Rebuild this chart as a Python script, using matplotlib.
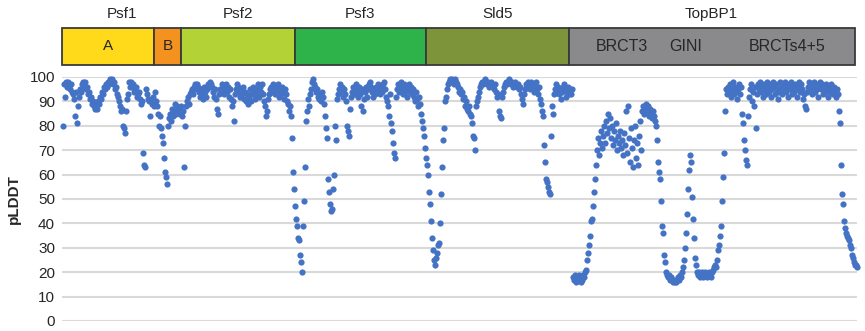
#!/usr/bin/env python3
"""
plot.py — pLDDT por residuo (AlphaFold) para el complejo GINS + TopBP1.

Dibuja un scatter de pLDDT a lo largo de las cadenas concatenadas y, encima,
una barra con los dominios de cada proteína. Sale en out.png (865x331 px).
"""

import matplotlib
matplotlib.use("Agg")
import matplotlib.pyplot as plt
import numpy as np

# ── Datos (un valor por residuo mostrado) ─────────────────────────────────────

psf1_A = [
    80, 97, 92, 98, 96, 98, 97, 95, 97, 94,
    93, 91, 84, 94, 81, 88, 92, 95, 94, 97,
    98, 96, 98, 95, 96, 93, 94, 91, 92, 89,
    90, 88, 87, 89, 87, 90, 89, 92, 91, 94,
    93, 96, 95, 97, 96, 98, 97, 99, 98, 99,
    97, 98, 95, 96, 93, 92, 90, 88, 86, 87,
    80, 79, 77, 86, 91, 93, 98, 96, 98, 96,
    97, 94, 95, 96, 92, 93, 94, 91, 89, 90,
    69, 64, 63, 95, 93, 91, 90, 84, 91, 89,
    92, 88,
]
psf1_B = [
    94, 90, 88, 85, 80, 84, 79, 76, 73, 67,
    61, 59, 56, 80, 83, 85, 82, 87, 84, 86,
    89, 85, 88, 86, 87, 85, 88,
]
psf2 = [
    84, 86, 63, 80, 88, 90, 92, 89, 93, 94,
    95, 93, 96, 97, 95, 97, 96, 94, 92, 95,
    93, 91, 96, 94, 92, 95, 97, 96, 98, 97,
    96, 94, 92, 95, 91, 87, 85, 93, 95, 94,
    97, 96, 93, 95, 97, 94, 96, 92, 95, 91,
    88, 90, 82, 93, 95, 97, 96, 94, 92, 95,
    93, 96, 91, 94, 90, 93, 89, 92, 95, 90,
    93, 96, 94, 91, 93, 95, 97, 92, 96, 94,
    97, 93, 90, 88, 84, 86, 91, 93, 95, 96,
    94, 97, 95, 93, 96, 94, 97, 92, 95, 93,
    96, 94, 91, 95, 93, 90, 89, 86, 88, 84,
    75, 61, 54, 47,
]
psf3 = [
    42, 39, 34, 33, 27, 24, 20, 39, 49, 63,
    82, 86, 91, 88, 93, 95, 98, 99, 97, 96,
    94, 95, 92, 91, 93, 90, 94, 92, 89, 84,
    79, 75, 58, 53, 48, 45, 46, 54, 60, 80,
    74, 91, 93, 95, 97, 94, 96, 92, 95, 93,
    90, 80, 78, 76, 87, 92, 94, 96, 93, 95,
    97, 94, 92, 96, 93, 88, 95, 86, 91, 94,
    96, 92, 95, 97, 98, 96, 94, 92, 95, 93,
    96, 94, 97, 95, 93, 96, 94, 97, 98, 95,
    92, 90, 88, 84, 93, 81, 78, 73, 69, 67,
    92, 95, 97, 94, 96, 98, 95, 93, 97, 94,
    96, 92, 95, 97, 94, 96, 93, 95, 92, 90,
    94, 91, 88, 92, 89, 85, 82, 79, 76, 71,
    67, 64,
]
sld5 = [
    60, 53, 48, 41, 34, 29, 25, 23, 26, 28,
    31, 32, 40, 52, 63, 74, 79, 90, 92, 95,
    97, 98, 99, 98, 99, 98, 97, 99, 98, 97,
    96, 94, 95, 93, 94, 91, 92, 88, 90, 87,
    86, 88, 85, 84, 81, 76, 75, 70, 88, 90,
    92, 94, 96, 97, 98, 97, 98, 99, 98, 97,
    98, 96, 97, 98, 97, 96, 95, 97, 94, 92,
    93, 86, 84, 83, 92, 94, 96, 97, 98, 97,
    98, 99, 98, 97, 98, 96, 97, 98, 97, 96,
    97, 95, 96, 93, 91, 89, 93, 95, 97, 96,
    98, 97, 95, 98, 96, 97, 94, 96, 98, 95,
    93, 96, 91, 89, 86, 84, 72, 65, 58, 57,
    55, 53, 52, 76, 88, 85, 93, 95, 97, 94,
    96, 93, 95, 91, 94, 96, 97, 95, 92, 94,
    96, 93, 95,
]
topbp1 = [
    93, 95, 18, 17, 19, 16, 18, 17, 19, 18,
    16, 17, 19, 18, 20, 21, 25, 28, 31, 35,
    41, 42, 47, 53, 58, 64, 70, 75, 68, 73,
    78, 71, 76, 80, 73, 82, 77, 85, 79, 83,
    75, 80, 72, 78, 74, 81, 70, 76, 73, 78,
    71, 74, 68, 77, 72, 86, 69, 88, 75, 65,
    79, 71, 63, 74, 80, 67, 73, 64, 76, 82,
    70, 86, 88, 85, 87, 89, 86, 88, 84, 87,
    85, 83, 86, 84, 82, 80, 74, 65, 61, 58,
    49, 39, 36, 27, 24, 20, 19, 18, 19, 17,
    18, 17, 16, 17, 16, 16, 17, 18, 17, 19,
    18, 20, 22, 25, 30, 36, 44, 54, 62, 68,
    65, 51, 42, 34, 26, 23, 20, 19, 20, 18,
    19, 20, 18, 19, 20, 19, 18, 19, 20, 19,
    18, 20, 21, 22, 23, 22, 25, 29, 31, 35,
    39, 49, 59, 69, 86, 95, 93, 96, 94, 97,
    92, 95, 98, 93, 96, 94, 91, 95, 97, 93,
    96, 85, 81, 74, 70, 66, 64, 84, 92, 95,
    97, 90, 94, 88, 96, 79, 93, 97, 95, 98,
    94, 96, 92, 97, 95, 93, 98, 96, 94, 97,
    92, 95, 98, 96, 93, 97, 95, 91, 94, 98,
    96, 93, 97, 95, 98, 94, 96, 92, 97, 95,
    98, 93, 96, 94, 97, 95, 92, 96, 98, 94,
    97, 95, 91, 93, 88, 87, 94, 96, 98, 95,
    97, 93, 96, 98, 94, 97, 95, 92, 96, 98,
    95, 97, 93, 96, 94, 97, 95, 92, 96, 94,
    97, 95, 93, 96, 94, 92, 95, 93, 86, 81,
    64, 52, 48, 41, 38, 36, 35, 34, 33, 31,
    30, 27, 26, 24, 23, 23, 22,
]

# Segmentos de la barra de dominios (etiqueta interior, color)
segments = [psf1_A, psf1_B, psf2, psf3, sld5, topbp1]
segment_labels = ["A", "B", "", "", "", ""]
segment_colors = ["#FFDA1A", "#F4921F", "#B2D235", "#2DB34A", "#7E943A", "#8A8A8C"]

# Nombre de proteína encima de la barra: (nombre, índices de segmentos)
proteins = [("Psf1", [0, 1]), ("Psf2", [2]), ("Psf3", [3]), ("Sld5", [4]), ("TopBP1", [5])]

# Subdominios de TopBP1 escritos dentro de la barra gris
topbp1_domains = ["BRCT3", "GINI", "BRCTs4+5"]

yticks = list(range(0, 101, 10))

# ── Figura ────────────────────────────────────────────────────────────────────

plt.rcParams["font.family"] = ["Liberation Sans", "DejaVu Sans"]
TEXT = "#262626"

values = np.concatenate([np.asarray(s, dtype=float) for s in segments])
x = np.arange(len(values))
lengths = [len(s) for s in segments]
starts = np.concatenate([[0], np.cumsum(lengths)[:-1]]) - 0.5

fig = plt.figure(figsize=(8.65, 3.31), dpi=100)
W, H = 865, 331
x0, x1 = -1, len(values) - 0.5

ax = fig.add_axes([62 / W, 1 - 321 / H, 795 / W, 244 / H])
ax.scatter(x, values, s=20, color="#4472C4", linewidths=0, zorder=3, clip_on=False)
ax.set_xlim(x0, x1)
ax.set_ylim(0, 100)
ax.set_yticks(yticks)
ax.set_xticks([])
ax.yaxis.grid(True, color="#D9D9D9", linewidth=1.5, zorder=0)
ax.set_axisbelow(True)
for sp in ax.spines.values():
    sp.set_visible(False)
ax.tick_params(axis="y", length=0, pad=5, labelsize=11, labelcolor=TEXT)
ax.set_ylabel("pLDDT", fontsize=11, fontweight="bold", color=TEXT, labelpad=6)

# Barra de dominios (termina un poco antes del último punto, como el original)
axb = fig.add_axes([62 / W, 1 - 65 / H, 795 / W, 37 / H])
axb.set_xlim(x0, x1 + 2.5)
axb.set_ylim(0, 1)
axb.axis("off")
for st, ln, lab, col in zip(starts, lengths, segment_labels, segment_colors):
    axb.barh(0.5, ln, left=st, height=1, color=col, edgecolor="#3A3A3A",
             linewidth=1.3, clip_on=False)
    if lab:
        axb.text(st + ln / 2, 0.5, lab, ha="center", va="center",
                 fontsize=11, color=TEXT)

for name, idx in proteins:
    left = starts[idx[0]]
    right = starts[idx[-1]] + lengths[idx[-1]]
    axb.text((left + right) / 2, 1.38, name, ha="center", va="center",
             fontsize=11, color=TEXT, clip_on=False)

# posiciones de los subdominios dentro de TopBP1 (fracción del segmento)
t_start, t_len = starts[5], lengths[5]
for lab, frac in zip(topbp1_domains, [0.185, 0.41, 0.765]):
    axb.text(t_start + frac * t_len, 0.5, lab, ha="center", va="center",
             fontsize=11.5, color=TEXT)

fig.savefig("out.png", dpi=100)
plt.close(fig)
